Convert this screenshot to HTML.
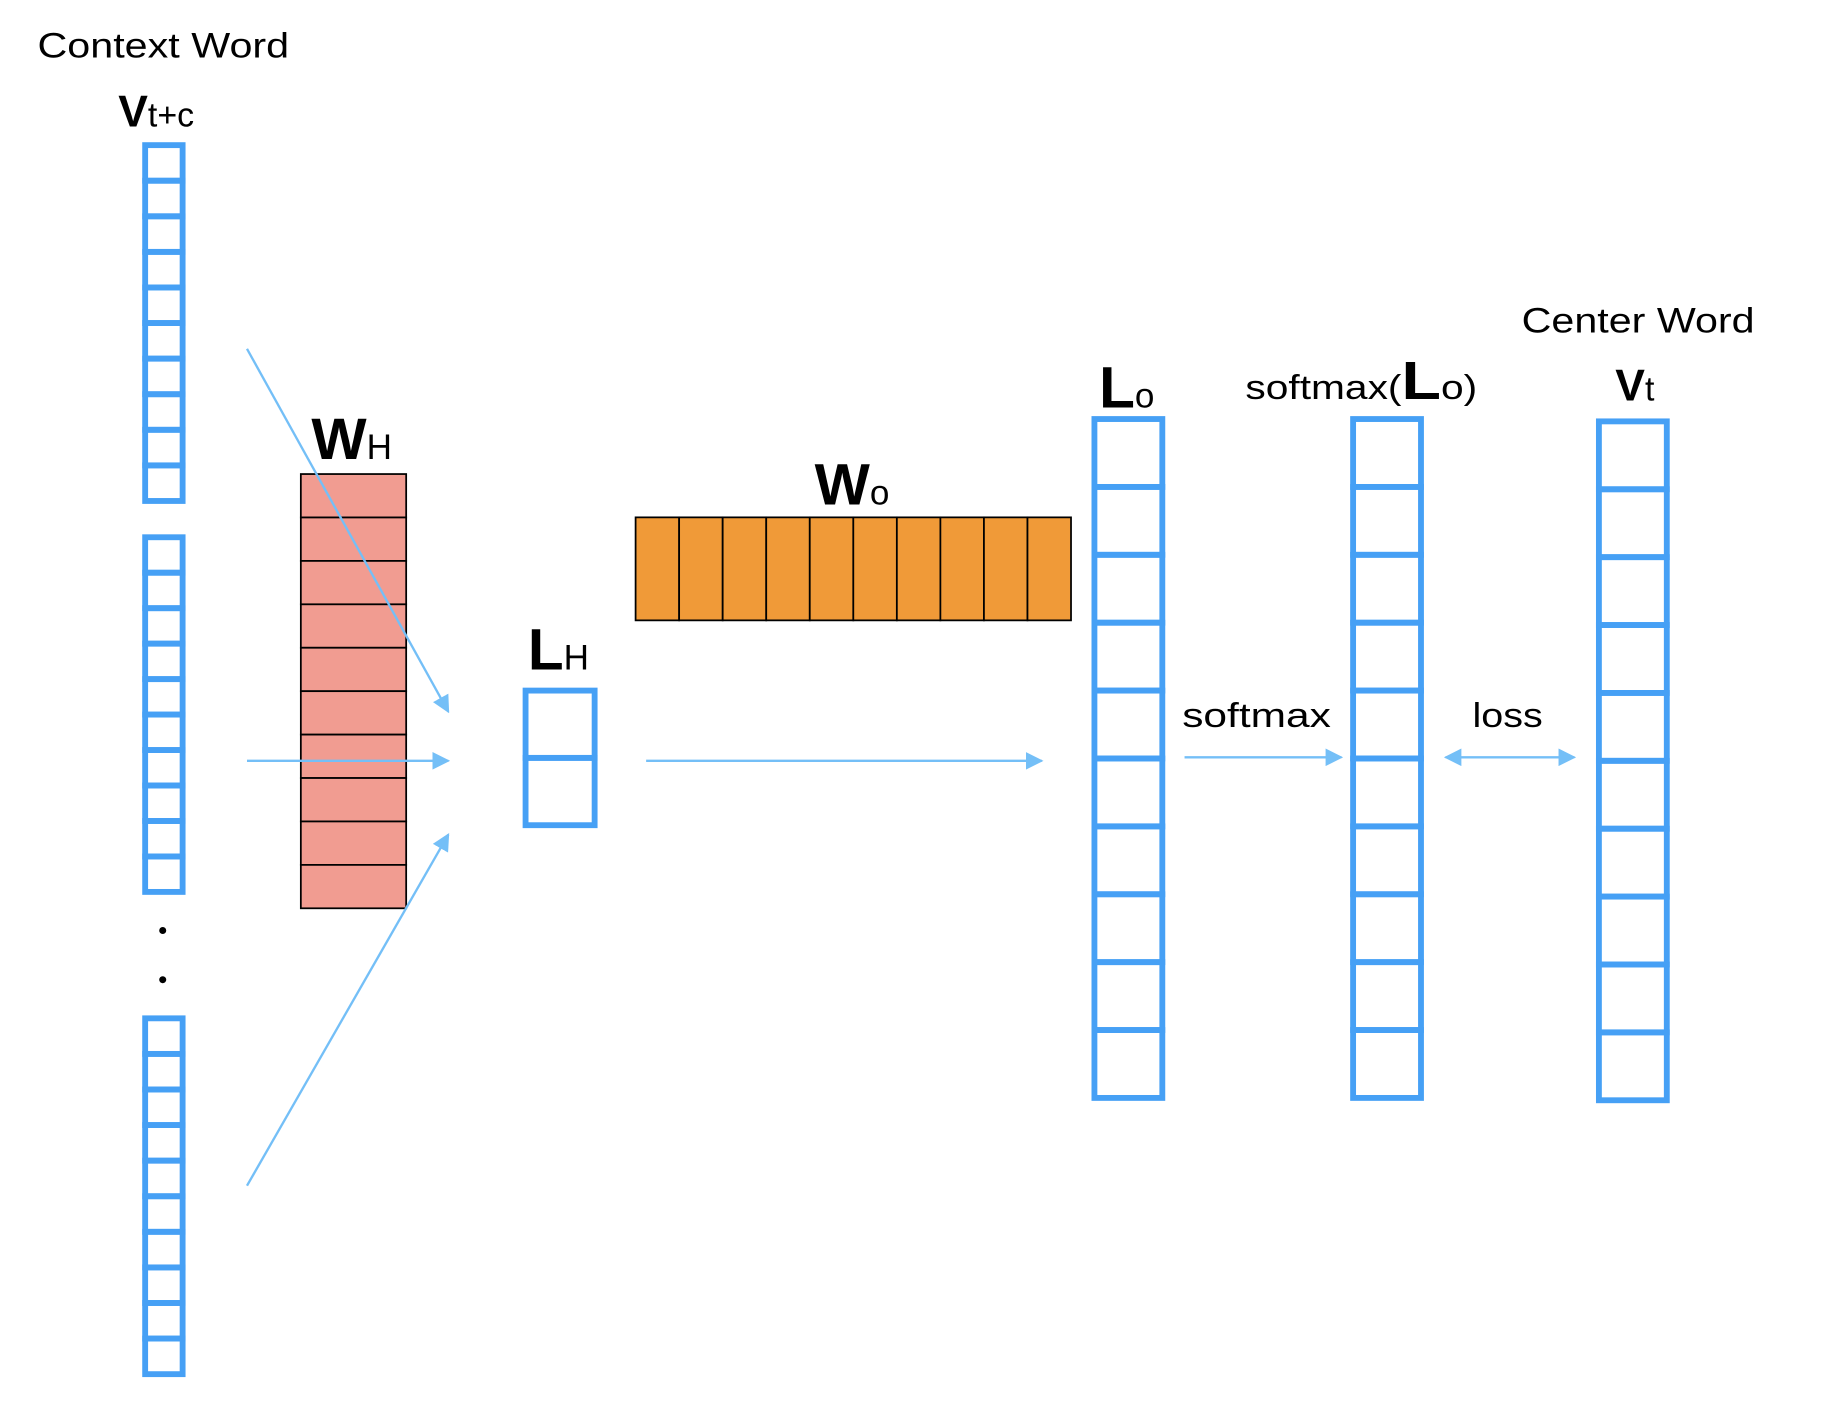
<!DOCTYPE html>
<html><head><meta charset="utf-8"><style>
html,body{margin:0;padding:0;background:#fff;}
svg{display:block;}
text{font-family:"Liberation Sans","DejaVu Sans",sans-serif;fill:#000;}
</style></head><body>
<svg id="diagram" width="1826" height="1428" viewBox="0 0 1560 1220" xmlns="http://www.w3.org/2000/svg">
<defs>
<marker id="ahb" viewBox="0 0 10 10" refX="9" refY="5" markerWidth="15" markerHeight="15" orient="auto-start-reverse" markerUnits="userSpaceOnUse">
<path d="M0,0 L10,5 L0,10 z" fill="#74bff7"/>
</marker>
</defs>
<g id="cols"></g>
<g id="mats"></g>
<circle cx="139" cy="795" r="3" fill="#000"/>
<circle cx="139" cy="837" r="3" fill="#000"/>
<g id="arrows" stroke="#74bff7" stroke-width="2" fill="none">
<line x1="211" y1="298" x2="383" y2="608" marker-end="url(#ahb)"/>
<line x1="211" y1="650" x2="383" y2="650" marker-end="url(#ahb)"/>
<line x1="211" y1="1013" x2="383" y2="713" marker-end="url(#ahb)"/>
<line x1="552" y1="650" x2="890" y2="650" marker-end="url(#ahb)"/>
<line x1="1012" y1="647" x2="1146" y2="647" marker-end="url(#ahb)"/>
<line x1="1235" y1="647" x2="1345" y2="647" marker-start="url(#ahb)" marker-end="url(#ahb)"/>
</g>
<text x="32" y="49" font-size="30" textLength="215" lengthAdjust="spacingAndGlyphs">Context Word</text>
<text x="101" y="108" font-size="38" font-weight="bold">V<tspan font-size="29" font-weight="normal">t+c</tspan></text>
<text x="266" y="392" font-size="50" font-weight="bold">W<tspan font-size="30" font-weight="normal">H</tspan></text>
<text x="451" y="572" font-size="50" font-weight="bold">L<tspan font-size="30" font-weight="normal">H</tspan></text>
<text x="696" y="431" font-size="50" font-weight="bold">W<tspan font-size="30" font-weight="normal">o</tspan></text>
<text x="939" y="348" font-size="50" font-weight="bold">L<tspan font-size="30" font-weight="normal">o</tspan></text>
<text x="1064" y="341" font-size="29" textLength="198" lengthAdjust="spacingAndGlyphs">softmax(<tspan font-size="46" font-weight="bold">L</tspan>o)</text>
<text x="1300" y="284" font-size="30" textLength="199" lengthAdjust="spacingAndGlyphs">Center Word</text>
<text x="1380" y="342" font-size="38" font-weight="bold">V<tspan font-size="29" font-weight="normal">t</tspan></text>
<text x="1010" y="621" font-size="29" textLength="127" lengthAdjust="spacingAndGlyphs">softmax</text>
<text x="1258" y="621" font-size="29" textLength="60" lengthAdjust="spacingAndGlyphs">loss</text>
</svg>
<script>
const colNames = ['context-vector-1','context-vector-2','context-vector-3','lh-vector','lo-vector','softmax-vector','vt-vector'];
const colCells = [10,10,10,2,10,10,10];
const colBoxes = [[124,124,32,304],[124,459,32,303],[124,870,32,304],[449,590,59,115],[935,358,58,580],[1156,358,58,580],[1366,360,58,580]];
const ns='http://www.w3.org/2000/svg';
const cols=document.getElementById('cols');
colNames.forEach((n,i)=>{
  const [x,y,w,h]=colBoxes[i];const k=colCells[i];const sw=5;
  const g=document.createElementNS(ns,'g');
  
  
  for(let j=0;j<k;j++){
    const r=document.createElementNS(ns,'rect');
    
    
    r.setAttribute('x',x);r.setAttribute('y',y+j*h/k);r.setAttribute('width',w);r.setAttribute('height',h/k);
    r.setAttribute('fill','none');r.setAttribute('stroke','#46a0f5');r.setAttribute('stroke-width',sw);
    g.appendChild(r);
  }
  cols.appendChild(g);
});
const mats=document.getElementById('mats');
function mat(name,x,y,w,h,n,vert,fill){
  const g=document.createElementNS(ns,'g');
  
  
  for(let j=0;j<n;j++){
    const r=document.createElementNS(ns,'rect');
    
    
    if(vert){r.setAttribute('x',x);r.setAttribute('y',y+j*h/n);r.setAttribute('width',w);r.setAttribute('height',h/n);}
    else{r.setAttribute('x',x+j*w/n);r.setAttribute('y',y);r.setAttribute('width',w/n);r.setAttribute('height',h);}
    r.setAttribute('fill',fill);r.setAttribute('stroke','#000');r.setAttribute('stroke-width','1.5');
    g.appendChild(r);
  }
  mats.appendChild(g);
}
mat('wh-matrix',257,405,90,371,10,true,'#f19c91');
mat('wo-matrix',543,442,372,88,10,false,'#f09a38');
</script>
</body></html>
